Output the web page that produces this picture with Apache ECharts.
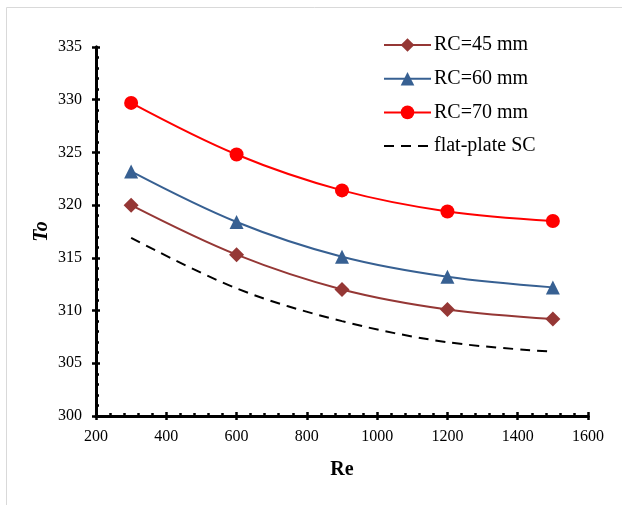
<!DOCTYPE html>
<html>
<head>
<meta charset="utf-8">
<script src="https://cdn.jsdelivr.net/npm/echarts@6/dist/echarts.min.js"></script>
<style>html,body{margin:0;padding:0;background:#fff}#c{width:622px;height:505px}</style>
</head>
<body>
<div id="c"></div>
<script>
const re = [300, 600, 900, 1200, 1500];
const rc45 = [320.0, 315.3, 312.0, 310.1, 309.2];
const rc60 = [323.2, 318.4, 315.1, 313.2, 312.2];
const rc70 = [329.7, 324.8, 321.4, 319.4, 318.5];
const flat = [316.9, 312.1, 309.0, 307.0, 306.1];
const seriesNames = ['RC=45 mm', 'RC=60 mm', 'RC=70 mm', 'flat-plate SC'];
const xName = 'Re';
const yName = 'To';

const FONT = '"Liberation Serif", "Times New Roman", serif';
const pairs = v => re.map((x, i) => [x, v[i]]);
const chart = echarts.init(document.getElementById('c'), null, {renderer: 'canvas'});

const baseX = {
  type: 'value', min: 200, max: 1600, interval: 200,
  axisLine: {show: true, onZero: false, lineStyle: {color: '#000', width: 3}},
  splitLine: {show: false}
};
const baseY = {
  type: 'value', min: 300, max: 335, interval: 5,
  axisLine: {show: true, onZero: false, lineStyle: {color: '#000', width: 3}},
  splitLine: {show: false}
};
const plain = v => String(v);

chart.setOption({
  animation: false,
  textStyle: {fontFamily: FONT},
  graphic: [{
    type: 'rect', shape: {x: 6.5, y: 7.5, width: 700, height: 700},
    style: {fill: 'none', stroke: '#d9d9d9', lineWidth: 1}, silent: true
  }],
  grid: {left: 96, right: 34, top: 47, bottom: 89},
  legend: {
    orient: 'vertical', left: 383, top: 35, padding: 0,
    itemWidth: 47, itemHeight: 17, itemGap: 13.7,
    textStyle: {fontFamily: FONT, fontSize: 20, color: '#000', lineHeight: 20, padding: [0, 0, 0, -2]},
    data: [
      seriesNames[0], seriesNames[1], seriesNames[2],
      {name: seriesNames[3], itemStyle: {opacity: 0}}
    ]
  },
  xAxis: [
    Object.assign({}, baseX, {
      name: xName, nameLocation: 'middle', nameGap: 44, nameMoveOverlap: false,
      nameTextStyle: {fontFamily: FONT, fontSize: 20, fontWeight: 'bold', color: '#000'},
      axisTick: {show: true, length: 4, lineStyle: {color: '#000', width: 2.5}},
      minorTick: {show: false},
      axisLabel: {fontFamily: FONT, fontSize: 16, color: '#000', margin: 13, formatter: plain}
    }),
    Object.assign({}, baseX, {
      position: 'bottom',
      axisTick: {show: true, inside: true, length: 4, lineStyle: {color: '#000', width: 2.5}},
      minorTick: {show: true, splitNumber: 5, length: 3, lineStyle: {color: '#000', width: 2.5}},
      axisLabel: {show: false}
    })
  ],
  yAxis: [
    Object.assign({}, baseY, {
      name: yName, nameLocation: 'middle', nameGap: 44, nameMoveOverlap: false,
      nameTextStyle: {fontFamily: FONT, fontSize: 20, fontWeight: 'bold', fontStyle: 'italic', color: '#000'},
      axisTick: {show: true, length: 4, lineStyle: {color: '#000', width: 2.5}},
      minorTick: {show: false},
      axisLabel: {fontFamily: FONT, fontSize: 16, color: '#000', margin: 14, formatter: plain}
    }),
    Object.assign({}, baseY, {
      position: 'left',
      axisTick: {show: true, inside: true, length: 4, lineStyle: {color: '#000', width: 2.5}},
      minorTick: {show: true, splitNumber: 5, length: 3, lineStyle: {color: '#000', width: 2.5}},
      axisLabel: {show: false}
    })
  ],
  series: [
    {
      name: seriesNames[0], type: 'line', data: pairs(rc45), smooth: 0.35,
      symbol: 'diamond', symbolSize: 15,
      itemStyle: {color: '#953735'}, lineStyle: {color: '#953735', width: 2}, z: 3
    },
    {
      name: seriesNames[1], type: 'line', data: pairs(rc60), smooth: 0.35,
      symbol: 'triangle', symbolSize: 14,
      itemStyle: {color: '#376092'}, lineStyle: {color: '#376092', width: 2}, z: 3
    },
    {
      name: seriesNames[2], type: 'line', data: pairs(rc70), smooth: 0.35,
      symbol: 'circle', symbolSize: 14,
      itemStyle: {color: '#ff0000'}, lineStyle: {color: '#ff0000', width: 2}, z: 3
    },
    {
      name: seriesNames[3], type: 'line', data: pairs(flat), smooth: 0.35,
      symbol: 'none', showSymbol: false,
      itemStyle: {color: '#000'}, lineStyle: {color: '#000', width: 2, type: [10, 7]}, z: 2
    }
  ]
});
</script>
</body>
</html>
